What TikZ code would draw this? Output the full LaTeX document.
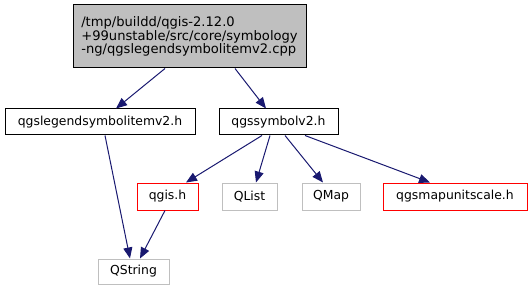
\documentclass[tikz,border=0pt]{standalone}
\usepackage{fontspec}
\setmainfont{DejaVu Sans}
\usetikzlibrary{arrows.meta, positioning}
\definecolor{edgeblue}{RGB}{25,25,112}

\begin{document}
\begin{tikzpicture}[x=1pt, y=-1pt,
    file/.style={draw, line width=1pt, minimum height=26pt, inner sep=0pt, font=\fontsize{12.4}{13.5}\selectfont},
    ext/.style={file, draw=black!25},
    miss/.style={file, draw=red},
    dep/.style={draw=edgeblue, line width=1pt, -{Triangle[length=11pt, width=9pt]}}]
  \useasboundingbox (0,0) rectangle (532,291);

  \node[file, fill=black!25, minimum width=233pt, minimum height=63pt, align=left,
        font=\fontsize{13.1}{13.6}\selectfont] (src) at (189.5,36.5)
    {/tmp/buildd/qgis-2.12.0\\+99unstable/src/core/symbology\\-ng/qgslegendsymbolitemv2.cpp};
  \node[file, minimum width=190pt] (legend) at (100,122) {qgslegendsymbolitemv2.h};
  \node[file, minimum width=119pt] (symbol) at (278.5,122) {qgssymbolv2.h};
  \node[miss, minimum width=61pt, minimum height=27pt] (qgis) at (167.5,196.5) {qgis.h};
  \node[ext, minimum width=55pt, minimum height=27pt] (qlist) at (249.5,196.5) {QList};
  \node[ext, minimum width=58pt, minimum height=27pt] (qmap) at (331,196.5) {QMap};
  \node[miss, minimum width=144pt, minimum height=27pt] (unit) at (455,196.5) {qgsmapunitscale.h};
  \node[ext, minimum width=71pt, minimum height=25pt] (qstring) at (133.5,271.5) {QString};

  \draw[dep] (src.south -| 165,0) -- (legend.north -| 116,0);
  \draw[dep] (src.south -| 235,0) -- (symbol.north -| 266,0);
  \draw[dep] (legend.south -| 105,0) -- (qstring.north -| 130,0);
  \draw[dep] (qgis.south -| 165,0) -- (qstring.north -| 140,0);
  \draw[dep] (symbol.south -| 262,0) -- (qgis.north -| 186,0);
  \draw[dep] (symbol.south -| 270,0) -- (qlist.north -| 256,0);
  \draw[dep] (symbol.south -| 285,0) -- (qmap.north -| 323,0);
  \draw[dep] (symbol.south -| 305,0) -- (unit.north -| 430,0);
\end{tikzpicture}
\end{document}
